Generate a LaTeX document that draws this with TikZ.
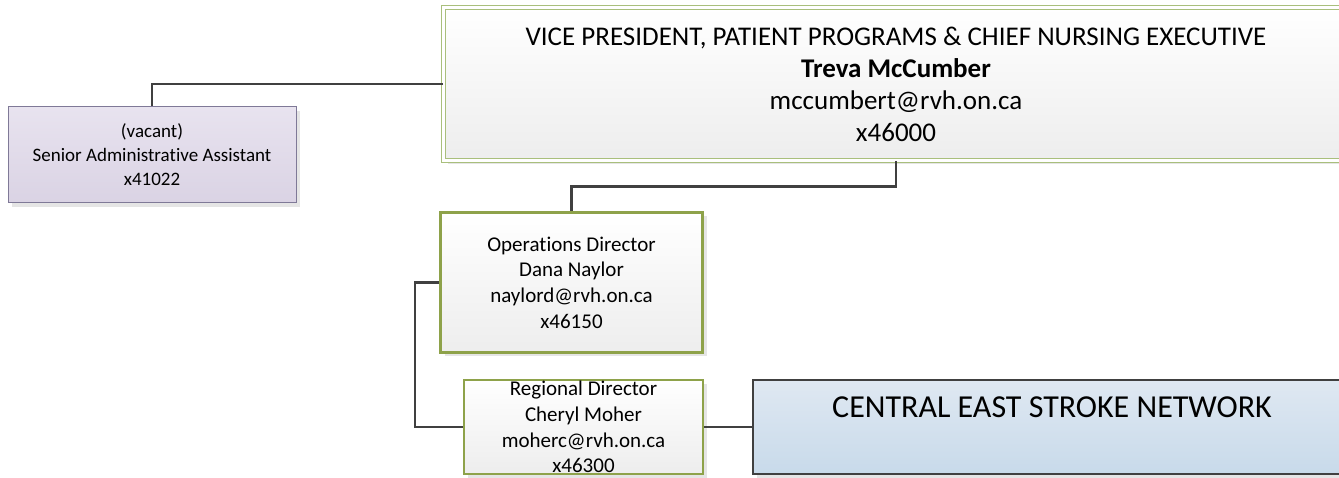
\documentclass[tikz,border=0pt]{standalone}
\usepackage{fontspec}
\setmainfont{Carlito}[Ligatures=NoCommon]
\usetikzlibrary{shadows}
\definecolor{conn}{HTML}{404040}
\definecolor{vpgreen}{HTML}{A9BF7C}
\definecolor{opgreen}{HTML}{8EA24A}
\definecolor{lavtop}{HTML}{E8E3EF}
\definecolor{lavbot}{HTML}{DAD3E4}
\definecolor{lavline}{HTML}{7F7997}
\definecolor{bluetop}{HTML}{DFE8F2}
\definecolor{bluebot}{HTML}{C8DAEA}
\tikzset{
  boxbase/.style={rectangle, inner sep=0pt, align=center,
    drop shadow={shadow xshift=4pt, shadow yshift=-4pt, fill=black!10, opacity=1}},
  vpbox/.style={boxbase, top color=white, bottom color=black!7,
    draw=vpgreen, line width=1pt, double=white, double distance=3pt,
    font=\fontsize{27}{32}\selectfont},
  adminbox/.style={boxbase, top color=lavtop, bottom color=lavbot,
    draw=lavline, line width=1pt, font=\fontsize{19}{24}\selectfont},
  opsbox/.style={boxbase, top color=white, bottom color=black!7,
    draw=opgreen, line width=3pt, font=\fontsize{21}{25.6}\selectfont},
  regbox/.style={boxbase, top color=white, bottom color=black!7,
    draw=opgreen, line width=2pt, font=\fontsize{21}{25.6}\selectfont},
  netbox/.style={boxbase, top color=bluetop, bottom color=bluebot,
    draw=conn, line width=2pt},
  connector/.style={draw=conn, line width=2.5pt}
}
\begin{document}
\begin{tikzpicture}[x=1pt,y=-1pt]
\useasboundingbox (0,0) rectangle (1339,478);
\clip (0,0) rectangle (1339,478);
\fill[white] (0,0) rectangle (1339,478);

\node[vpbox, minimum width=905pt, minimum height=153pt] (vp) at (896,84)
  {VICE PRESIDENT, PATIENT PROGRAMS \& CHIEF NURSING EXECUTIVE\\
   \textbf{Treva McCumber}\\ mccumbert@rvh.on.ca\\ x46000};

\node[adminbox, minimum width=288pt, minimum height=96pt] (admin) at (152,155)
  {(vacant)\\ Senior Administrative Assistant\\ x41022};

\node[opsbox, minimum width=262pt, minimum height=140pt] (ops) at (571.5,282.5)
  {Operations Director\\ Dana Naylor\\ naylord@rvh.on.ca\\ x46150};

\node[regbox, minimum width=239pt, minimum height=94pt] (reg) at (583.5,427)
  {Regional Director\\ Cheryl Moher\\ moherc@rvh.on.ca\\ x46300};

\node[netbox, minimum width=598pt, minimum height=94pt] (net) at (1052,427) {};
\node[font=\fontsize{32}{38}\selectfont, inner sep=0pt] (netlabel) at (1052,407)
  {CENTRAL EAST STROKE NETWORK};

\draw[connector] (vp.west) -| (admin.north);
\draw[connector] (vp.south) -- ++(0,25.5) -| (ops.north);
\draw[connector] (ops.west) -- ++(-24,0) |- (reg.west);
\draw[connector] (reg.east) -- (net.west);
\end{tikzpicture}
\end{document}
